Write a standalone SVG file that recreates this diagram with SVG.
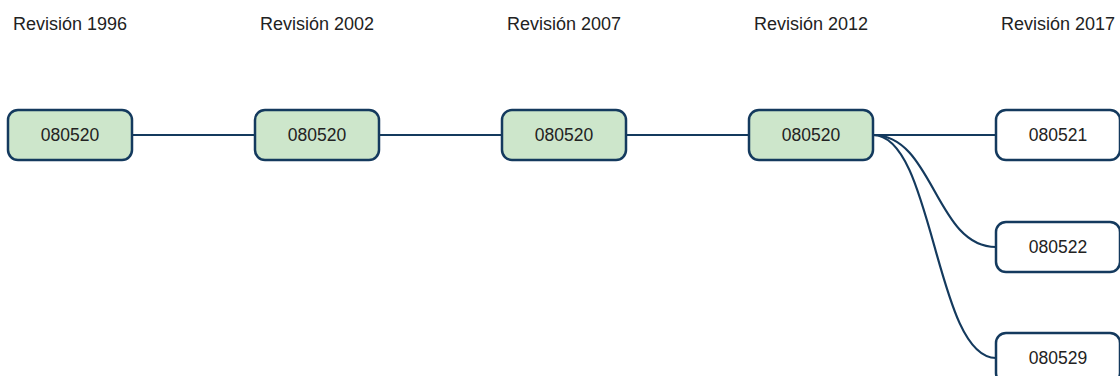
<svg xmlns="http://www.w3.org/2000/svg" width="1120" height="376" viewBox="0 0 1120 376">
  <style>
    .lbl { font-family: "Liberation Sans", Arial, sans-serif; font-size: 18px; fill: #222; text-anchor: middle; }
    .code { font-family: "Liberation Sans", Arial, sans-serif; font-size: 17.5px; fill: #222; text-anchor: middle; dominant-baseline: central; }
    .old { fill: #cde6cb; stroke: #143a5e; stroke-width: 2.5; }
    .new { fill: #ffffff; stroke: #143a5e; stroke-width: 2.5; }
    .edge { fill: none; stroke: #143a5e; stroke-width: 2.2; }
  </style>
  <rect width="1120" height="376" fill="#ffffff"/>

  <!-- revision headers -->
  <g id="headers">
    <text class="lbl" x="70" y="30">Revisión 1996</text>
    <text class="lbl" x="317" y="30">Revisión 2002</text>
    <text class="lbl" x="564" y="30">Revisión 2007</text>
    <text class="lbl" x="811" y="30">Revisión 2012</text>
    <text class="lbl" x="1058" y="30">Revisión 2017</text>
  </g>

  <!-- connectors -->
  <g id="connectors">
    <path class="edge" d="M132,135 H255"/>
    <path class="edge" d="M379,135 H502"/>
    <path class="edge" d="M626,135 H749"/>
    <path class="edge" d="M873,135 H996"/>
    <path class="edge" d="M873,135 C934,135 935,247 996,247"/>
    <path class="edge" d="M873,135 C934,135 935,358 996,358"/>
  </g>

  <!-- nodes -->
  <g id="n1996">
    <rect class="old" x="8" y="110" width="124" height="50" rx="10"/>
    <text class="code" x="70" y="135">080520</text>
  </g>
  <g id="n2002">
    <rect class="old" x="255" y="110" width="124" height="50" rx="10"/>
    <text class="code" x="317" y="135">080520</text>
  </g>
  <g id="n2007">
    <rect class="old" x="502" y="110" width="124" height="50" rx="10"/>
    <text class="code" x="564" y="135">080520</text>
  </g>
  <g id="n2012">
    <rect class="old" x="749" y="110" width="124" height="50" rx="10"/>
    <text class="code" x="811" y="135">080520</text>
  </g>
  <g id="n2017a">
    <rect class="new" x="996" y="110" width="124" height="50" rx="10"/>
    <text class="code" x="1058" y="135">080521</text>
  </g>
  <g id="n2017b">
    <rect class="new" x="996" y="222" width="124" height="50" rx="10"/>
    <text class="code" x="1058" y="247">080522</text>
  </g>
  <g id="n2017c">
    <rect class="new" x="996" y="333" width="124" height="50" rx="10"/>
    <text class="code" x="1058" y="358">080529</text>
  </g>
</svg>
